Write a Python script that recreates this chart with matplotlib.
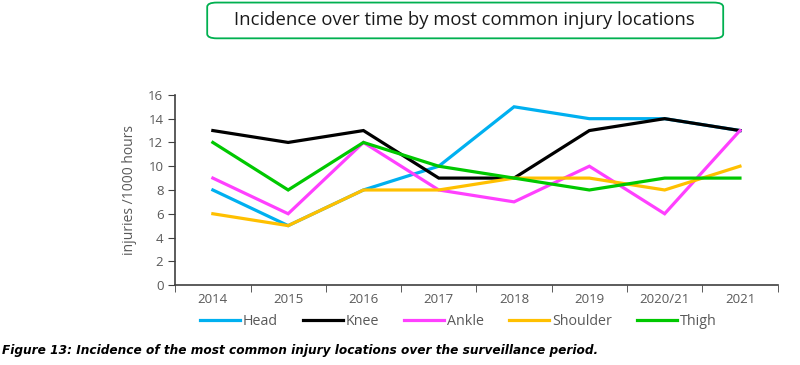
import matplotlib
matplotlib.use("Agg")
import matplotlib.pyplot as plt
from matplotlib.patches import FancyBboxPatch
import numpy as np

years = ["2014", "2015", "2016", "2017", "2018", "2019", "2020/21", "2021"]
head = [8, 5, 8, 10, 15, 14, 14, 13]
knee = [13, 12, 13, 9, 9, 13, 14, 13]
ankle = [9, 6, 12, 8, 7, 10, 6, 13]
shoulder = [6, 5, 8, 8, 9, 9, 8, 10]
thigh = [12, 8, 12, 10, 9, 8, 9, 9]

series = [("Head", head, "#00B0F0"), ("Knee", knee, "#000000"),
          ("Ankle", ankle, "#FF40FF"), ("Shoulder", shoulder, "#FFC000"),
          ("Thigh", thigh, "#00C800")]

plt.rcParams['font.family'] = ['Open Sans', 'DejaVu Sans']
fig = plt.figure(figsize=(8, 3.65), dpi=100)
ax = fig.add_axes([0.219, 0.219, 0.753, 0.521])
x = np.arange(len(years))
for name, vals, c in series:
    ax.plot(x, vals, color=c, lw=2.3, label=name, solid_joinstyle='miter')

ax.set_xlim(-0.5, len(years) - 0.5)
ax.set_ylim(0, 16)
ax.set_yticks(range(0, 17, 2))
ax.set_xticks(x)
ax.set_xticklabels(years)
ax.set_xticks(np.arange(-0.5, len(years), 1), minor=True)
ax.tick_params(axis='x', which='major', length=0, pad=6, labelcolor='#595959', labelsize=9.5)
ax.tick_params(axis='x', which='minor', length=5, direction='out', color='#404040')
ax.tick_params(axis='y', length=5, direction='out', color='#404040', labelcolor='#595959', labelsize=9.5)
for s in ['top', 'right']:
    ax.spines[s].set_visible(False)
for s in ['left', 'bottom']:
    ax.spines[s].set_color('#404040')
    ax.spines[s].set_linewidth(1.2)
ax.set_ylabel("injuries /1000 hours", color='#595959', fontsize=10, labelpad=8)

leg = ax.legend(loc='upper center', bbox_to_anchor=(0.47, -0.085), ncol=5, frameon=False,
                fontsize=10.3, handlelength=2.8, handletextpad=0.2, columnspacing=1.75,
                labelcolor='#595959')

box = FancyBboxPatch((0.259, 0.895), 0.645, 0.098, boxstyle="round,pad=0,rounding_size=0.012",
                     transform=fig.transFigure, fill=False, edgecolor='#00B050', lw=1.3)
fig.patches.append(box)
fig.text(0.581, 0.946, "Incidence over time by most common injury locations",
         ha='center', va='center', fontsize=13.3, color='#1a1a1a')
fig.text(0.002, 0.04, "Figure 13: Incidence of the most common injury locations over the surveillance period.",
         ha='left', va='center', fontsize=8.7, style='italic', weight='bold', color='#000000',
         family='DejaVu Sans')
fig.savefig("out.png", dpi=100, facecolor='white')
